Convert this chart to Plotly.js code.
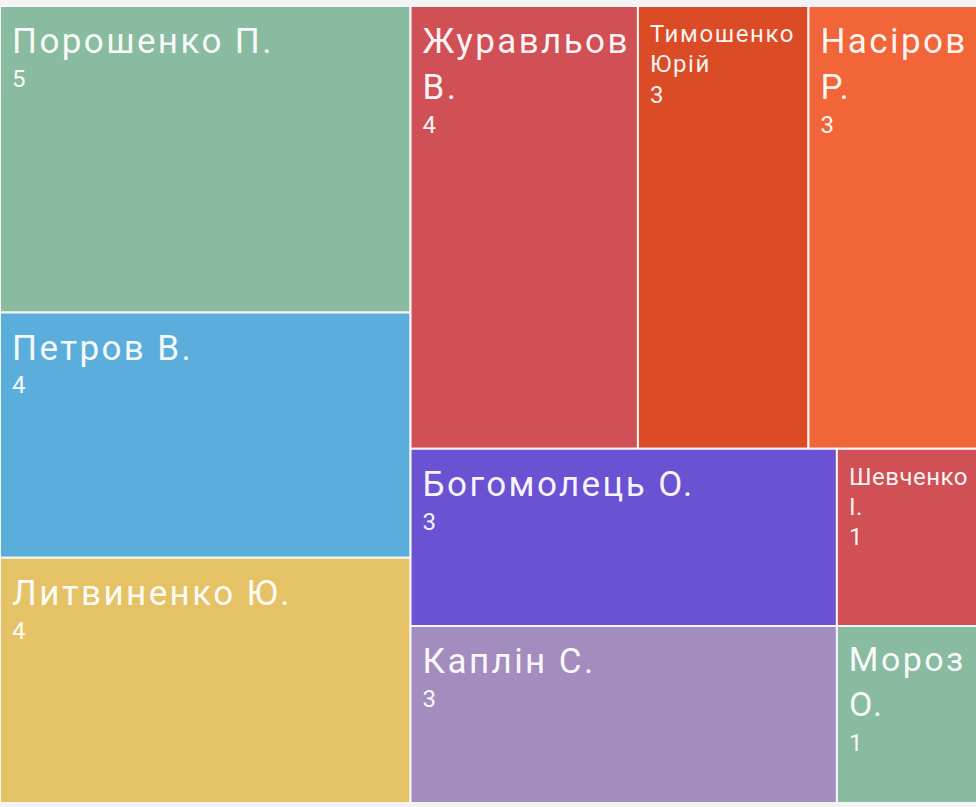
<!DOCTYPE html>
<html>
<head>
<meta charset="utf-8">
<script src="https://cdn.plot.ly/plotly-3.0.1.min.js"></script>
<style>
html,body{margin:0;padding:0;background:#f3f3f3;overflow:hidden;}
#chart{width:979px;height:807px;}
</style>
</head>
<body>
<div id="chart"></div>
<script>
// Data
var labels = ["Порошенко П.", "Петров В.", "Литвиненко Ю.", "Журавльов В.", "Тимошенко Юрій", "Насіров Р.", "Богомолець О.", "Каплін С.", "Шевченко І.", "Мороз О."];
var values = [5, 4, 4, 4, 3, 3, 3, 3, 1, 1];
var displayLines = [["Порошенко П."], ["Петров В."], ["Литвиненко Ю."], ["Журавльов", "В."], ["Тимошенко", "Юрій"], ["Насіров", "Р."], ["Богомолець О."], ["Каплін С."], ["Шевченко", "І."], ["Мороз", "О."]];
var colors = ["#88BB9F", "#5BAEDB", "#E5C266", "#D05055", "#DB4B26", "#F26539", "#6A52D3", "#A38DBE", "#D05055", "#88BB9F"];
var labelSizes = [35, 35, 35, 35, 24, 35, 35, 35, 24, 34];
var letterSpacings = [2.4, 2.4, 2.4, 2.4, 1.6, 2.4, 2.4, 2.4, 0.5, 2.4];
var baseSizes = [26, 26, 26, 35, 23.3, 35, 26, 26, 23.3, 35];

function spacer(size, width) {
  // invisible no-break space: sets left indent and top offset of the label block
  var ls = (width - 0.248 * size).toFixed(1);
  return '<span style="font-size:' + size.toFixed(1) + 'px;letter-spacing:' + ls + 'px">\u00a0</span>';
}

var texts = displayLines.map(function (lines, i) {
  var top = (labelSizes[i] + 12 - 3.5) / 0.927;
  var out = lines.map(function (l, k) {
    var sp = k === 0 ? spacer(top, 9) : spacer(30, 9);
    return sp + '<span style="font-size:' + labelSizes[i] + 'px;letter-spacing:' + letterSpacings[i] + 'px">' + l + '</span>';
  });
  var shift = Math.max(0, baseSizes[i] * 1.3 - 34);
  out.push(spacer(30, 9) + '<span style="font-size:24px;baseline-shift:' + shift.toFixed(1) + 'px">' + values[i] + '</span>');
  return out.join('<br>');
});

var trace = {
  type: 'treemap',
  labels: labels,
  parents: labels.map(function () { return ''; }),
  values: values,
  text: texts,
  texttemplate: '%{text}',
  textposition: 'top left',
  textfont: {family: 'Roboto, sans-serif', size: baseSizes, color: 'rgba(255,255,255,0.95)'},
  marker: {colors: colors, line: {color: '#f6f6f6', width: 2}, pad: {t: 0, l: 0, r: 0, b: 0}},
  pathbar: {visible: false},
  tiling: {packing: 'squarify', squarifyratio: 1.618, pad: 0},
  hoverinfo: 'skip',
  sort: true
};

var layout = {
  width: 979,
  height: 807,
  margin: {l: 0, r: 0, t: 6, b: 4},
  paper_bgcolor: '#f3f3f3',
  font: {family: 'Roboto, sans-serif'}
};

Plotly.newPlot('chart', [trace], layout, {displayModeBar: false, staticPlot: true});
</script>
</body>
</html>
